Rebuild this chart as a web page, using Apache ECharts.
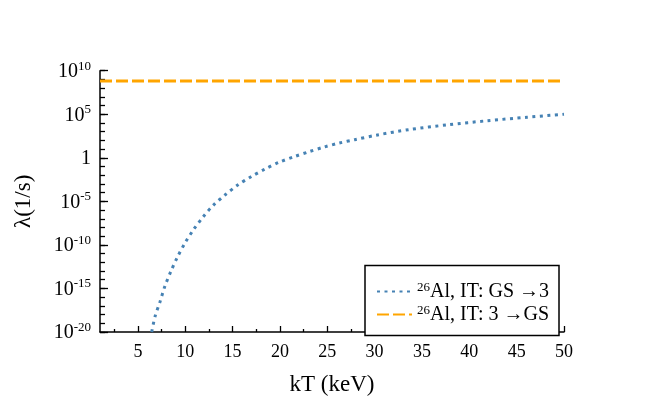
<!DOCTYPE html>
<html><head><meta charset="utf-8">
<script src="https://cdn.jsdelivr.net/npm/echarts@6/dist/echarts.min.js"></script>
<style>html,body{margin:0;padding:0;background:#fff}#c{width:664px;height:402px}</style>
</head><body><div id="c"></div>
<script>
// kT (keV) values and decay rates
var gsTo3KT = [6.46, 6.81, 7.34, 7.86, 8.5, 9.16, 9.98, 10.85, 11.88, 12.96, 14.2, 15.5, 16.95, 18.42, 19.9, 21.5, 23.07, 24.65, 26.27, 27.9, 30.3, 33.6, 37.8, 41.9, 46.1, 50];
var gsTo3Rate = [1e-20, 5.8e-19, 3.0e-17, 1.9e-15, 1.0e-13, 3.7e-12, 1.7e-10, 5.1e-9, 1.6e-7, 3.5e-6, 5.4e-5, 6.9e-4, 6.8e-3, 5.1e-2, 0.30, 1.35, 5.0, 17, 50, 120, 420, 1700, 6300, 1.8e4, 4.5e4, 1.0e5];
var s3ToGsKT = [1, 50];
var s3ToGsRate = [6.6e8, 6.6e8];
var xTickLabels = [5, 10, 15, 20, 25, 30, 35, 40, 45, 50];
var xMinorTicks = [2.5, 7.5, 12.5, 17.5, 22.5, 27.5, 32.5, 37.5, 42.5, 47.5];
var yTickLabels = [1e-20, 1e-15, 1e-10, 1e-5, 1, 1e5, 1e10];
var seriesNames = ['GS3', '3GS'];

function pairs(xs, ys) { return xs.map(function (x, i) { return [x, ys[i]]; }); }

var font = 'Liberation Serif';
var chart = echarts.init(document.getElementById('c'), null, { renderer: 'canvas' });
chart.setOption({
  animation: false,
  backgroundColor: '#fff',
  grid: { left: 100, right: 100, top: 70.7, bottom: 70, containLabel: false },
  xAxis: [{
    type: 'value', min: 1, max: 50,
    name: 'kT (keV)', nameLocation: 'middle', nameGap: 41,
    nameTextStyle: { fontFamily: font, fontSize: 23, color: '#000' },
    axisLine: { onZero: false, lineStyle: { color: '#000', width: 1.5 } },
    axisTick: { inside: true, length: 6, customValues: xTickLabels, lineStyle: { color: '#000', width: 1.3 } },
    axisLabel: { customValues: xTickLabels, fontFamily: font, fontSize: 18, color: '#000', margin: 11 },
    splitLine: { show: false }
  }, {
    type: 'value', min: 1, max: 50, position: 'bottom',
    axisLine: { show: false, onZero: false },
    axisTick: { inside: true, length: 3, customValues: xMinorTicks, lineStyle: { color: '#000', width: 1.3 } },
    axisLabel: { show: false },
    splitLine: { show: false }
  }],
  yAxis: [{
    type: 'log', logBase: 10, min: 1e-20, max: 1e10, interval: 1, position: 'left',
    name: 'λ(1/s)', nameLocation: 'middle', nameGap: 65, nameRotate: 90,
    nameTextStyle: { fontFamily: font, fontSize: 23, color: '#000' },
    axisLine: { show: true, onZero: false, lineStyle: { color: '#000', width: 1.5 } },
    axisTick: { inside: true, length: 5, lineStyle: { color: '#000', width: 1.3 } },
    minorTick: { show: false },
    splitLine: { show: false },
    axisLabel: {
      margin: 9, color: '#000',
      customValues: yTickLabels,
      formatter: function (v) {
        var e = Math.round(Math.log10(v));
        if (e === 0) return '{b|1}';
        return '{b|10}{s|' + e + '}';
      },
      rich: {
        b: { fontFamily: font, fontSize: 20, color: '#000', lineHeight: 22, verticalAlign: 'bottom' },
        s: { fontFamily: font, fontSize: 13, color: '#000', lineHeight: 22, verticalAlign: 'top', padding: [0, 0, 10, 0] }
      }
    }
  }, {
    type: 'log', logBase: 10, min: 1e-20, max: 1e10, position: 'left',
    axisLine: { show: false, onZero: false },
    axisTick: { show: true, inside: true, length: 8, customValues: yTickLabels, lineStyle: { color: '#000', width: 1.3 } },
    axisLabel: { show: false },
    splitLine: { show: false }
  }],
  legend: {
    orient: 'vertical', left: 365, top: 265.5,
    padding: [16, 10, 9, 11],
    itemGap: 1, itemWidth: 35, itemHeight: 18,
    borderColor: '#000', borderWidth: 1.5, backgroundColor: '#fff',
    data: seriesNames,
    itemStyle: { opacity: 0 },
    formatter: function (n) {
      return n === 'GS3' ? '{s|26}{t|Al, IT: GS →3}' : '{s|26}{t|Al, IT: 3 →GS}';
    },
    textStyle: {
      rich: {
        s: { fontFamily: font, fontSize: 13, color: '#000', verticalAlign: 'top', lineHeight: 20, padding: [0, 0, 9, 0] },
        t: { fontFamily: font, fontSize: 20, color: '#000', lineHeight: 20 }
      }
    }
  },
  series: [{
    name: 'GS3', type: 'line', xAxisIndex: 0, yAxisIndex: 0, showSymbol: false, symbol: 'none', smooth: 0.3,
    data: pairs(gsTo3KT, gsTo3Rate),
    lineStyle: { color: '#4682b4', width: 3, type: [3, 4.5], cap: 'butt' },
    itemStyle: { color: '#4682b4' }
  }, {
    name: '3GS', type: 'line', xAxisIndex: 0, yAxisIndex: 0, showSymbol: false, symbol: 'none',
    data: pairs(s3ToGsKT, s3ToGsRate),
    lineStyle: { color: '#ffa500', width: 3, type: [12, 4], cap: 'butt' },
    itemStyle: { color: '#ffa500' }
  }]
});
</script></body></html>
